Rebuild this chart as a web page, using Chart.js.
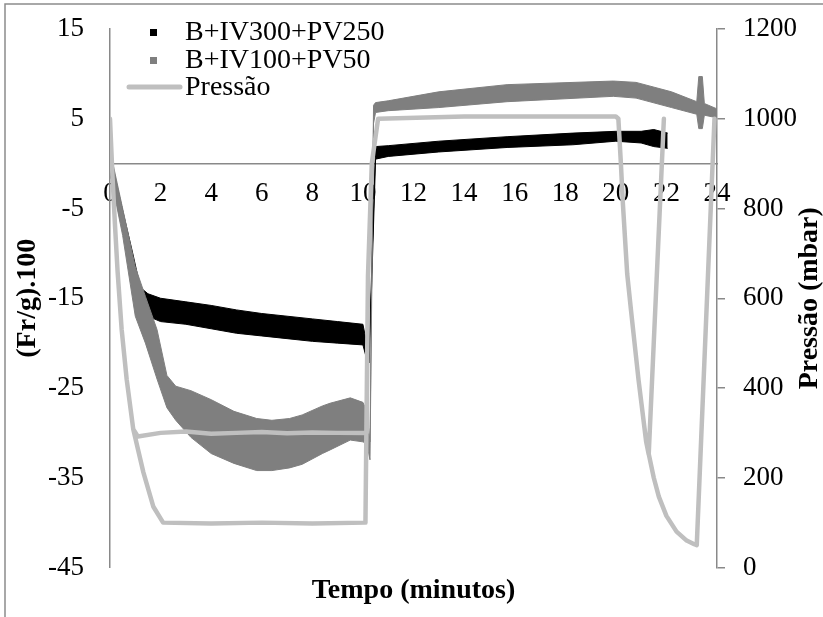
<!DOCTYPE html>
<html>
<head>
<meta charset="utf-8">
<title>Fr/g e pressão x tempo</title>
<script src="https://cdn.jsdelivr.net/npm/chart.js@4.4.1/dist/chart.umd.min.js"></script>
<style>
  html, body { margin: 0; padding: 0; background: #fff; }
  canvas { display: block; }
</style>
</head>
<body>
<canvas id="chart" width="823" height="617"></canvas>
<script>
// B+IV300+PV250: tempo (min) e bordas superior / inferior da nuvem de pontos
const tA   = [0, 0.3, 0.6, 0.9, 1.2, 1.5, 2, 3, 4, 5, 6, 7, 8, 9, 10, 10.15, 10.25, 10.5, 11, 13, 15.7, 18.3, 20, 21, 21.5, 22.05];
const topA = [1.0, -2.8, -6.4, -10, -13.8, -14.5, -15, -15.4, -15.8, -16.3, -16.7, -17, -17.3, -17.6, -17.9, -20, -20.5, 1.9, 2.0, 2.5, 3.0, 3.4, 3.6, 3.6, 3.8, 3.4];
const botA = [-1.0, -4.8, -8.4, -12, -16.0, -17.0, -17.6, -17.9, -18.4, -18.9, -19.2, -19.5, -19.8, -20.0, -20.2, -21.8, -22.2, 0.5, 0.8, 1.3, 1.8, 2.1, 2.5, 2.3, 1.9, 1.7];

// B+IV100+PV50
const tB   = [0, 0.5, 1.0, 1.4, 1.86, 2.25, 2.6, 3.2, 4, 4.9, 5.8, 6.4, 7.1, 7.6, 8.4, 8.7, 9.5, 10, 10.15, 10.28, 10.42, 10.5, 11, 13, 15.7, 19.9, 20.8, 22.2, 23.2, 23.28, 23.42, 23.5, 24];
const topB = [1.5, -5, -11.5, -14.8, -18.5, -23.6, -24.8, -25.3, -26.3, -27.6, -28.4, -28.6, -28.4, -28, -27, -26.7, -26.1, -26.6, -27.5, -31, 6.5, 6.8, 7.0, 8.0, 8.8, 9.2, 9.05, 8.0, 6.9, 9.7, 9.7, 6.7, 6.1];
const botB = [-1, -8, -17, -20, -24, -27.2, -28.6, -30.5, -32.3, -33.4, -34.2, -34.2, -33.9, -33.5, -32.3, -31.9, -30.8, -31, -31.2, -33, 4.5, 5.7, 5.9, 6.25, 6.9, 7.5, 7.3, 6.25, 5.5, 3.9, 3.9, 5.4, 5.1];

// Pressão (mbar) dos dois ensaios
const tP300 = [0, 0.1, 0.2, 0.3, 0.46, 0.66, 0.92, 1.1, 2, 3, 4, 5, 6, 7, 8, 9, 10.15, 10.2, 10.35, 10.6, 14, 20, 20.1, 20.2, 20.28, 20.45, 20.6, 20.9, 21.2, 21.3, 21.9];
const p300  = [1000, 870, 760, 660, 531, 419, 308, 292, 300, 303, 298, 300, 302, 299, 301, 300, 300, 650, 900, 1000, 1005, 1005, 1000, 900, 810, 654, 573, 417, 280, 252, 1000];
const tP100 = [0, 0.1, 0.2, 0.3, 0.46, 0.66, 0.92, 1.32, 1.71, 2.1, 4, 6, 8, 10.1, 10.2, 10.35, 10.6, 14, 20, 20.1, 20.2, 20.28, 20.45, 20.6, 20.9, 21.2, 21.5, 21.7, 22.0, 22.4, 22.8, 23.1, 23.2, 23.9];
const p100  = [1000, 870, 760, 660, 531, 419, 308, 212, 136, 100, 98, 100, 98, 100, 650, 900, 1000, 1005, 1005, 1000, 900, 810, 654, 573, 417, 280, 200, 158, 115, 80, 60, 52, 50, 1000];

const xTicks = { min: 0, max: 24, step: 2 };
const yTicks = { min: -45, max: 15, step: 10 };
const pTicks = { min: 0, max: 1200, step: 200 };

const FONT = '"Liberation Serif", "Times New Roman", serif';
const AXIS_GREY = '#898989';
const BLACK = '#000000';
const GREY = '#7f7f7f';
const LIGHT = '#bfbfbf';

const pts = (ts, vs) => ts.map((t, i) => ({ x: t, y: vs[i] }));
// the two pressure runs share one series, split by a gap
const pressao = [...pts(tP300, p300), { x: 21.9, y: null }, ...pts(tP100, p100)];

const bandStyle = (color) => ({
  borderColor: color, backgroundColor: color, borderWidth: 1,
  pointRadius: 0, tension: 0
});

// legend, right-hand title and the outer frame are drawn by hand
const extras = {
  id: 'extras',
  beforeDraw(chart) {
    const ctx = chart.ctx;
    ctx.save();
    ctx.fillStyle = '#fff';
    ctx.fillRect(0, 0, chart.width, chart.height);
    ctx.strokeStyle = '#8c8c8c';
    ctx.lineWidth = 1.5;
    ctx.beginPath();
    ctx.moveTo(5, chart.height);
    ctx.lineTo(5, 4);
    ctx.lineTo(chart.width, 4);
    ctx.stroke();
    ctx.restore();
  },
  afterDraw(chart) {
    const ctx = chart.ctx;
    const area = chart.chartArea;
    ctx.save();
    ctx.fillStyle = '#000';
    ctx.textBaseline = 'middle';
    ctx.font = `bold 28px ${FONT}`;
    ctx.translate(810, (area.top + area.bottom) / 2);
    ctx.rotate(-Math.PI / 2);
    ctx.textAlign = 'center';
    ctx.fillText('Pressão (mbar)', 0, 0);
    ctx.restore();

    ctx.save();
    ctx.font = `28px ${FONT}`;
    ctx.textBaseline = 'middle';
    ctx.textAlign = 'left';
    ctx.fillStyle = BLACK;
    ctx.fillRect(150, 29, 7, 7);
    ctx.fillText('B+IV300+PV250', 185, 33);
    ctx.fillStyle = GREY;
    ctx.fillRect(150, 57, 7, 7);
    ctx.fillStyle = BLACK;
    ctx.fillText('B+IV100+PV50', 185, 61);
    ctx.strokeStyle = LIGHT;
    ctx.lineWidth = 5;
    ctx.lineCap = 'round';
    ctx.beginPath();
    ctx.moveTo(129, 87);
    ctx.lineTo(180, 87);
    ctx.stroke();
    ctx.fillText('Pressão', 185, 88);
    ctx.restore();
  }
};

const tickFont = { family: FONT, size: 27 };
const plain = (v) => String(v);

// fixed side widths; drop the label half-height padding so the plot can reach the top
function sideFit(width) {
  return (scale) => {
    scale.width = width;
    scale.paddingTop = 0;
    scale.paddingBottom = 0;
  };
}

new Chart(document.getElementById('chart'), {
  type: 'line',
  data: {
    datasets: [
      { label: 'B+IV300+PV250', data: pts(tA, topA), fill: false, order: 2, ...bandStyle(BLACK) },
      { label: 'B+IV300+PV250 inf', data: pts(tA, botA), fill: '-1', order: 2, ...bandStyle(BLACK) },
      { label: 'B+IV100+PV50', data: pts(tB, topB), fill: false, order: 1, ...bandStyle(GREY) },
      { label: 'B+IV100+PV50 inf', data: pts(tB, botB), fill: '-1', order: 1, ...bandStyle(GREY) },
      {
        label: 'Pressão', data: pressao, yAxisID: 'y1', order: 0,
        borderColor: LIGHT, borderWidth: 4.5, pointRadius: 0, fill: false,
        borderJoinStyle: 'round', borderCapStyle: 'round', spanGaps: false
      }
    ]
  },
  options: {
    responsive: false,
    animation: false,
    layout: { padding: { top: 29, left: 0, right: 0, bottom: 0 } },
    plugins: {
      legend: { display: false },
      tooltip: { enabled: false },
      title: {
        display: true, text: 'Tempo (minutos)', position: 'bottom', fullSize: false,
        color: '#000', font: { family: FONT, size: 28, weight: 'bold' },
        padding: { top: 6.7, bottom: 9.2 }
      }
    },
    scales: {
      x: {
        type: 'linear', min: xTicks.min, max: xTicks.max, position: { y: 0 },
        ticks: { stepSize: xTicks.step, color: '#000', font: tickFont, padding: 14, maxRotation: 0, callback: plain },
        grid: { display: false, drawTicks: false },
        border: { color: AXIS_GREY, width: 1.5 }
      },
      y: {
        position: 'left', min: yTicks.min, max: yTicks.max,
        ticks: { stepSize: yTicks.step, color: '#000', font: tickFont, padding: 26, callback: plain },
        grid: { display: false, drawTicks: false },
        border: { color: AXIS_GREY, width: 1.5 },
        title: {
          display: true, text: '(Fr/g).100', color: '#000',
          font: { family: FONT, size: 28, weight: 'bold' }, padding: { top: 11, bottom: 0 }
        },
        afterFit: sideFit(110)
      },
      y1: {
        position: 'right', min: pTicks.min, max: pTicks.max,
        ticks: { stepSize: pTicks.step, color: '#000', font: tickFont, padding: 18, callback: plain },
        grid: { drawOnChartArea: false, tickLength: 8, color: AXIS_GREY, lineWidth: 1.5 },
        border: { color: AXIS_GREY, width: 1.5 },
        afterFit: sideFit(106)
      }
    }
  },
  plugins: [extras]
});
</script>
</body>
</html>
